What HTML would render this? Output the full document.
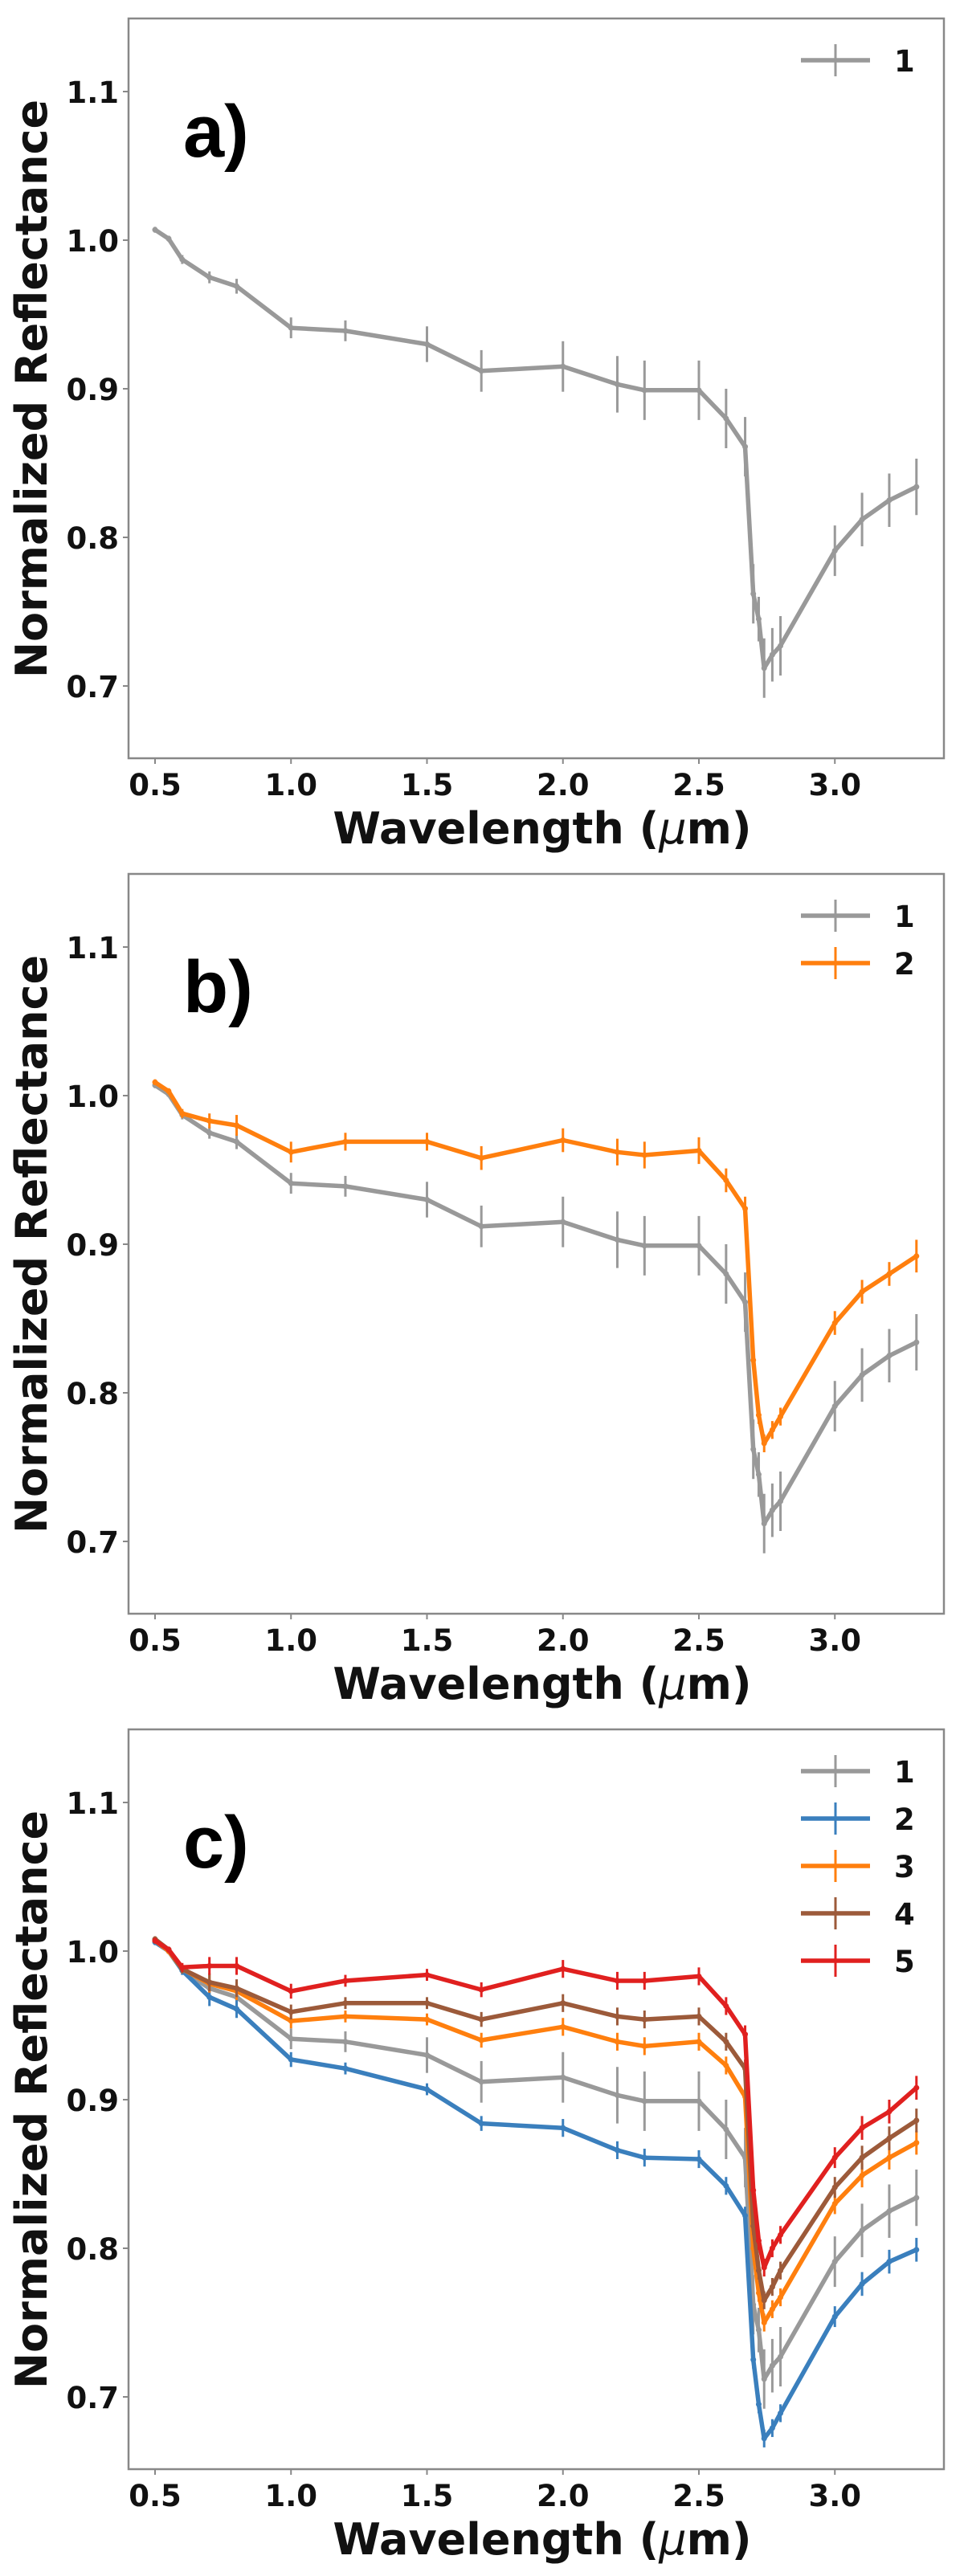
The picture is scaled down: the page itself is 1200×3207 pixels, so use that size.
<!DOCTYPE html>
<html><head><meta charset="utf-8"><style>
html,body{margin:0;padding:0;background:#fff;}
svg{display:block;}
.tick{font-family:"DejaVu Sans","Liberation Sans",sans-serif;font-weight:bold;font-size:37px;fill:#111;}
.axl{font-family:"DejaVu Sans","Liberation Sans",sans-serif;font-weight:bold;font-size:54px;fill:#111;}
.pl{font-family:"Liberation Sans",sans-serif;font-weight:bold;font-size:92px;fill:#000;}
</style></head><body>
<svg id="fig" width="1200" height="3207" viewBox="0 0 1200 3207" xmlns="http://www.w3.org/2000/svg"></svg>
<script>
const wavelengths=[0.5,0.55,0.6,0.7,0.8,1.0,1.2,1.5,1.7,2.0,2.2,2.3,2.5,2.6,2.67,2.7,2.72,2.74,2.77,2.8,3.0,3.1,3.2,3.3];
const s1=[1.007,1.001,0.987,0.975,0.969,0.941,0.939,0.930,0.912,0.915,0.903,0.899,0.899,0.880,0.861,0.762,0.745,0.712,0.721,0.727,0.791,0.812,0.825,0.834];
const s1err=[0.002,0.002,0.003,0.004,0.005,0.007,0.007,0.012,0.014,0.017,0.019,0.02,0.02,0.02,0.02,0.02,0.015,0.02,0.018,0.02,0.017,0.018,0.018,0.019];
const b2=[1.009,1.003,0.988,0.983,0.980,0.962,0.969,0.969,0.958,0.970,0.962,0.960,0.963,0.943,0.924,0.822,0.785,0.766,0.775,0.784,0.847,0.868,0.880,0.892];
const b2err=[0.002,0.002,0.003,0.005,0.007,0.007,0.006,0.006,0.008,0.008,0.009,0.009,0.009,0.008,0.008,0.006,0.006,0.006,0.006,0.006,0.008,0.008,0.008,0.011];
const c2=[1.006,1.0,0.987,0.969,0.961,0.927,0.921,0.907,0.884,0.881,0.866,0.861,0.860,0.842,0.822,0.725,0.695,0.672,0.679,0.689,0.754,0.776,0.791,0.799];
const c3=[1.007,1.0,0.988,0.978,0.973,0.953,0.956,0.954,0.940,0.949,0.939,0.936,0.939,0.923,0.902,0.800,0.770,0.750,0.759,0.767,0.830,0.849,0.861,0.871];
const c4=[1.008,1.001,0.988,0.979,0.975,0.959,0.965,0.965,0.954,0.965,0.956,0.954,0.956,0.939,0.921,0.815,0.785,0.765,0.774,0.785,0.841,0.861,0.874,0.886];
const c5=[1.007,1.001,0.989,0.990,0.990,0.973,0.980,0.984,0.974,0.988,0.980,0.980,0.983,0.963,0.944,0.839,0.805,0.787,0.800,0.809,0.861,0.881,0.892,0.908];
const cerr=[0.002,0.002,0.003,0.006,0.006,0.005,0.004,0.004,0.005,0.006,0.006,0.006,0.006,0.006,0.006,0.006,0.006,0.006,0.006,0.006,0.007,0.008,0.008,0.008];
const xTicks=[0.5,1.0,1.5,2.0,2.5,3.0];
const xTickLabels=["0.5","1.0","1.5","2.0","2.5","3.0"];
const yTicks=[0.7,0.8,0.9,1.0,1.1];
const yTickLabels=["0.7","0.8","0.9","1.0","1.1"];
const GRAY="#999999",BLUE="#3a7fbd",ORANGE="#ff7f0e",BROWN="#9c5a3a",RED="#e0201f";
const panels=[
 {label:"a)",series:[{name:"1",v:s1,e:s1err,c:GRAY}]},
 {label:"b)",series:[{name:"1",v:s1,e:s1err,c:GRAY},{name:"2",v:b2,e:b2err,c:ORANGE}]},
 {label:"c)",series:[{name:"1",v:s1,e:s1err,c:GRAY},{name:"2",v:c2,e:cerr,c:BLUE},{name:"3",v:c3,e:cerr,c:ORANGE},{name:"4",v:c4,e:cerr,c:BROWN},{name:"5",v:c5,e:cerr,c:RED}]}
];
const NS="http://www.w3.org/2000/svg";
const fig=document.getElementById('fig');
function mk(tag,attrs,parent){const e=document.createElementNS(NS,tag);for(const k in attrs)e.setAttribute(k,attrs[k]);parent.appendChild(e);return e;}
const L=160,R=1175,PX=338.5;
panels.forEach((p,pi)=>{
 const off=pi*1065, T=23+off, B=944+off;
 const xs=v=>193+(v-0.5)*PX;
 const ys=v=>299+off-(v-1.0)*1850;
 const g=mk('g',{},fig);
 
 
 const frame=mk('rect',{x:L,y:T,width:R-L,height:B-T,fill:'none',stroke:'#888',"stroke-width":2.5},g);
 
 
 xTicks.forEach((t,i)=>{
  mk('line',{x1:xs(t),x2:xs(t),y1:B,y2:B+7,stroke:'#888',"stroke-width":2},g);
  const tx=mk('text',{x:xs(t),y:B+46,"text-anchor":"middle",class:"tick"},g);tx.textContent=xTickLabels[i];
  
  
 });
 yTicks.forEach((t,i)=>{
  mk('line',{x1:L-7,x2:L,y1:ys(t),y2:ys(t),stroke:'#888',"stroke-width":2},g);
  const tx=mk('text',{x:L-12,y:ys(t)+14,"text-anchor":"end",class:"tick"},g);tx.textContent=yTickLabels[i];
  
  
 });
 const xl=mk('text',{x:675,y:B+106,"text-anchor":"middle",class:"axl"},g);
 xl.innerHTML='Wavelength (<tspan font-style="italic" font-weight="normal">μ</tspan>m)';
 
 
 const yl=mk('text',{x:0,y:0,"text-anchor":"middle",class:"axl",transform:`translate(58,${484+off}) rotate(-90)`},g);
 yl.textContent='Normalized Reflectance';
 
 
 const pl=mk('text',{x:228,y:195+off,class:"pl"},g);pl.textContent=p.label;
 
 
 p.series.forEach((s,si)=>{
  const sg=mk('g',{},g);
  
  
  wavelengths.forEach((w,i)=>{
   mk('line',{x1:xs(w),x2:xs(w),y1:ys(s.v[i]-s.e[i]),y2:ys(s.v[i]+s.e[i]),stroke:s.c,"stroke-width":3},sg);
  });
  const pts=wavelengths.map((w,i)=>xs(w).toFixed(1)+','+ys(s.v[i]).toFixed(1)).join(' ');
  const pline=mk('polyline',{points:pts,fill:'none',stroke:s.c,"stroke-width":5.5,"stroke-linejoin":"round"},sg);
  
  
  wavelengths.forEach((w,i)=>{mk('circle',{cx:xs(w),cy:ys(s.v[i]),r:3.5,fill:s.c},sg);});
  const ly=75+off+si*59;
  const lg=mk('g',{},g);
  
  
  mk('line',{x1:997,x2:1083,y1:ly,y2:ly,stroke:s.c,"stroke-width":5.5},lg);
  mk('line',{x1:1040,x2:1040,y1:ly-20,y2:ly+20,stroke:s.c,"stroke-width":3},lg);
  const lt=mk('text',{x:1113,y:ly+14,class:"tick"},lg);lt.textContent=s.name;
 });
});
</script>
</body></html>
